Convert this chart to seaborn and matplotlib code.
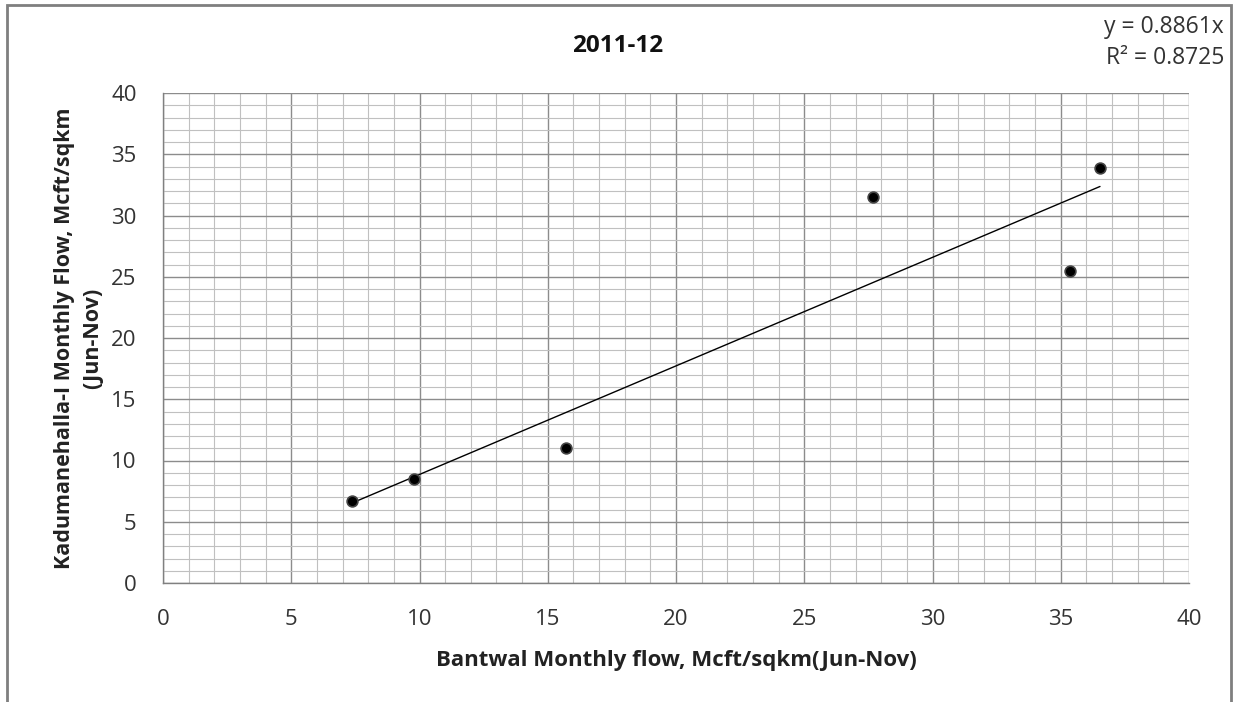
import matplotlib
matplotlib.use("Agg")
import matplotlib.pyplot as plt
import seaborn as sns
import numpy as np
import pandas as pd
from matplotlib.ticker import MultipleLocator
from matplotlib.patches import Rectangle

bantwal = [7.37, 9.79, 15.71, 27.68, 35.36, 36.53]
kadumanehalla = [6.7, 8.5, 11.0, 31.5, 25.5, 33.9]
slope = 0.8861
r2 = 0.8725
title = "2011-12"
xlabel = "Bantwal Monthly flow, Mcft/sqkm(Jun-Nov)"
ylabel = "Kadumanehalla-I Monthly Flow, Mcft/sqkm\n(Jun-Nov)"

sns.set_style("white")
plt.rcParams['font.family'] = ['Open Sans', 'DejaVu Sans']

df = pd.DataFrame({"x": bantwal, "y": kadumanehalla})

fig = plt.figure(figsize=(12.34, 7.02), dpi=100)
ax = fig.add_axes([163/1234, 1-583/702, (1189-163)/1234, (583-93)/702])

ax.set_xlim(0, 40)
ax.set_ylim(0, 40)
ax.xaxis.set_major_locator(MultipleLocator(5))
ax.yaxis.set_major_locator(MultipleLocator(5))
ax.xaxis.set_minor_locator(MultipleLocator(1))
ax.yaxis.set_minor_locator(MultipleLocator(1))
ax.grid(which='major', color='#8c8c8c', linewidth=1.0)
ax.grid(which='minor', color='#c0c0c0', linewidth=0.8)
ax.set_axisbelow(True)

for s in ['top', 'right']:
    ax.spines[s].set_visible(False)
for s in ['left', 'bottom']:
    ax.spines[s].set_color('#808080')
    ax.spines[s].set_linewidth(1.0)

ax.tick_params(which='major', direction='out', length=6, color='#808080',
               labelsize=16, labelcolor='#333333', pad=13)
ax.tick_params(which='minor', length=0)

xs = np.array([min(bantwal), max(bantwal)])
ax.plot(xs, slope * xs, color='black', linewidth=1.0, zorder=3)

sns.scatterplot(data=df, x="x", y="y", ax=ax, color='black', s=60,
                edgecolor='#444444', linewidth=1.2, zorder=4)

ax.set_xlabel(xlabel, fontsize=16, fontweight='bold', color='#222222', labelpad=14)
ax.set_ylabel(ylabel, fontsize=15.5, fontweight='bold', color='#222222', labelpad=6,
              linespacing=1.45)

fig.text(618/1234, 1-46/702, title, fontsize=17.5, fontweight='bold',
         ha='center', va='center', color='#111111')
fig.text(1224/1234, 1-27/702, f"y = {slope:.4f}x", fontsize=16.5, ha='right',
         va='center', color='#333333')
fig.text(1224/1234, 1-58/702, f"R² = {r2:.4f}", fontsize=16.5, ha='right',
         va='center', color='#333333')

fig.patches.append(Rectangle((7/1234, -0.01), (1231-7)/1234, 1.0 - 5/702 + 0.01,
                             transform=fig.transFigure, fill=False,
                             edgecolor='#7f7f7f', linewidth=2.0))

fig.savefig("out.png", dpi=100)
